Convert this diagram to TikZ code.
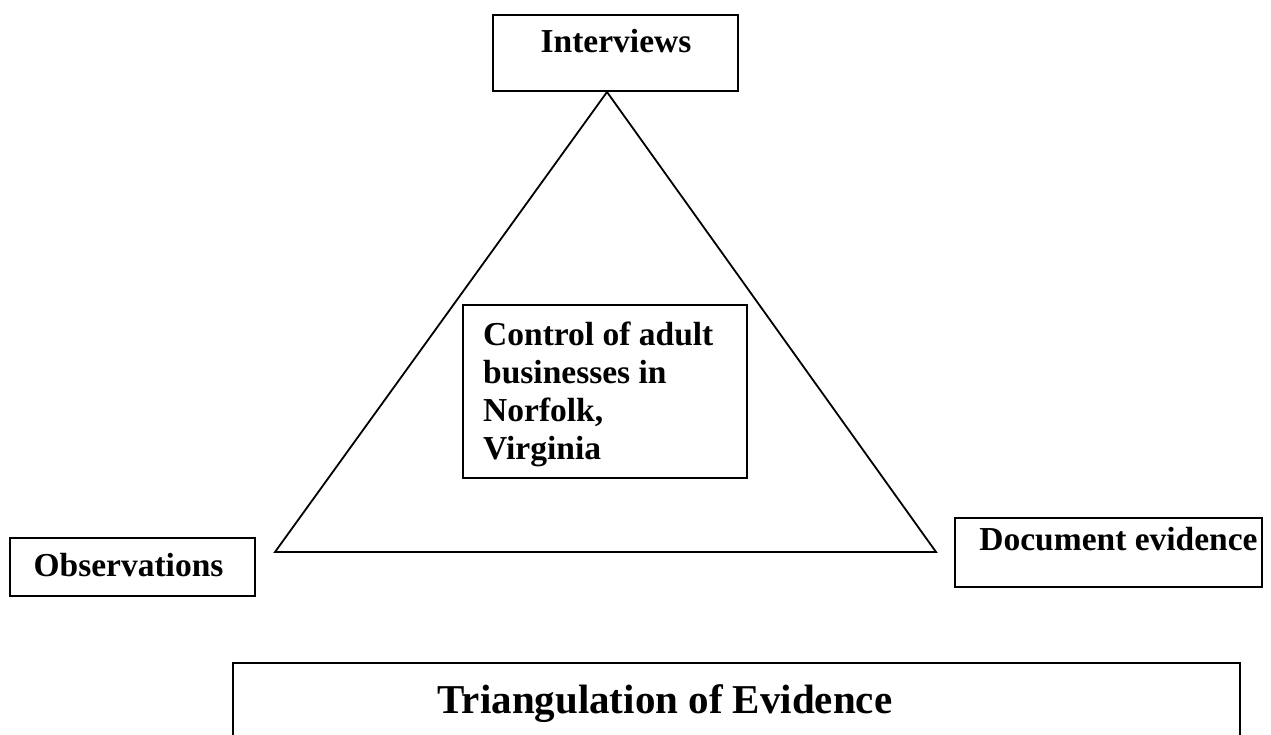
\documentclass[tikz,border=0pt]{standalone}
\usepackage{fontspec}
\setmainfont{Liberation Serif}
\begin{document}
\begin{tikzpicture}[x=1pt,y=-1pt,
  boxline/.style={draw=black,line width=1.7pt},
  lbl/.style={inner sep=0pt,font=\bfseries\fontsize{33.5}{38}\selectfont},
  biglbl/.style={inner sep=0pt,font=\bfseries\fontsize{41}{46}\selectfont}]
\useasboundingbox (0,0) rectangle (1271,735);
% boxes
\draw[boxline] (493,15) rectangle (738,91);
\node[lbl,anchor=base] (int) at (616,53) {Interviews};
\draw[boxline] (10,538) rectangle (255,596);
\node[lbl,anchor=base] (obs) at (128.5,576) {Observations};
\draw[boxline] (955,518) rectangle (1262,587);
\node[lbl,anchor=base] (doc) at (1118.5,550) {Document evidence};
\draw[boxline] (463,305) rectangle (747,478);
\node[lbl,anchor=north west,align=left] (ctr) at (483,322) {Control of adult\\businesses in\\Norfolk,\\Virginia};
% triangle
\coordinate (apex) at (607,92);
\coordinate (bl) at (275,552);
\coordinate (br) at (936,552);
\draw[line width=1.8pt,line join=miter] (apex) -- (bl) -- (br) -- cycle;
% bottom box
\draw[boxline] (233,740) -- (233,663) -- (1240,663) -- (1240,740);
\node[biglbl,anchor=base] (tri) at (665,713) {Triangulation of Evidence};
\end{tikzpicture}
\end{document}
